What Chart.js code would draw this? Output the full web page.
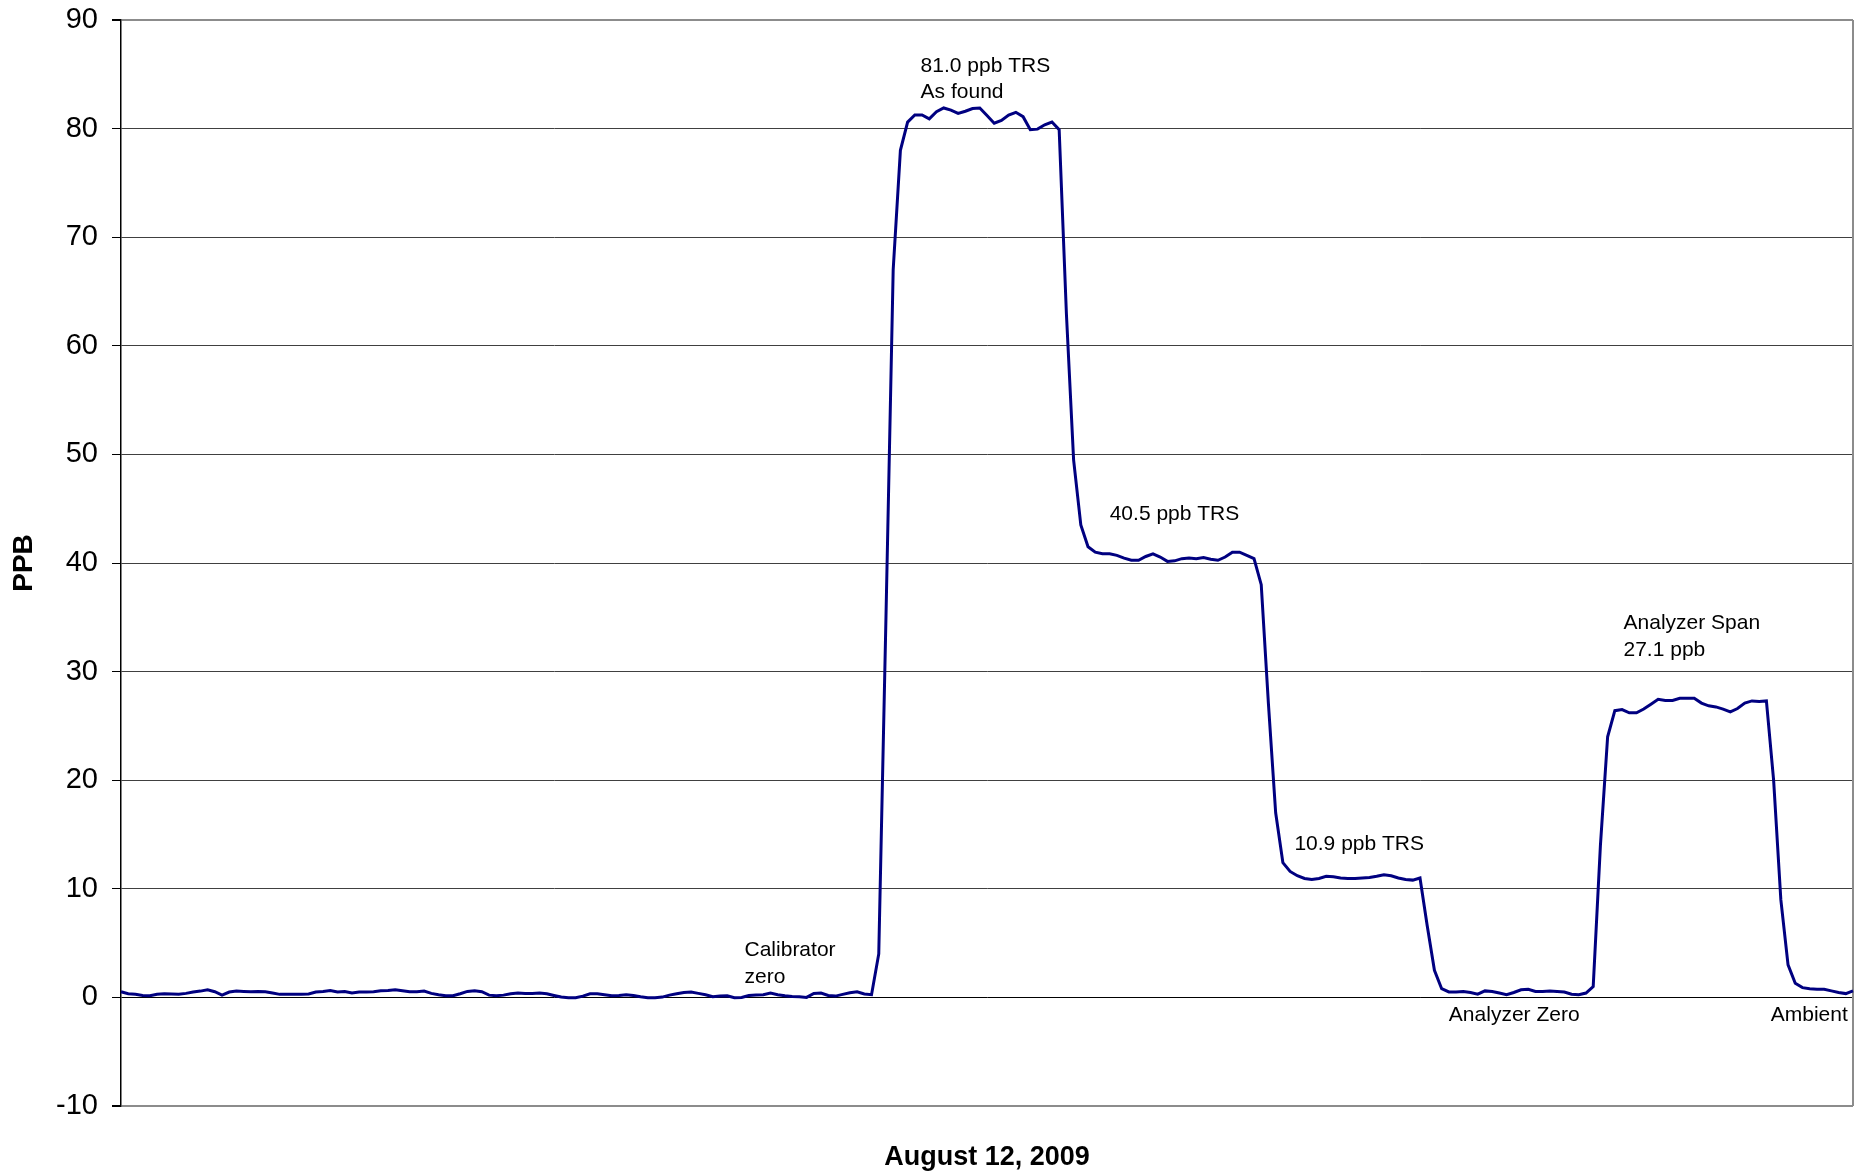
<!DOCTYPE html>
<html>
<head>
<meta charset="utf-8">
<script src="https://cdn.jsdelivr.net/npm/chart.js@4.4.1/dist/chart.umd.min.js"></script>
<style>
  html, body { margin: 0; padding: 0; background: #fff; }
  #wrap { width: 1865px; height: 1174px; position: relative; }
</style>
</head>
<body>
<div id="wrap"><canvas id="trsChart"></canvas></div>
<script>
// TRS readings (ppb), one sample per reading across the day
const ppb = [
  0.52, 0.34, 0.28, 0.18, 0.15, 0.28, 0.34, 0.31, 0.28, 0.37,
  0.49, 0.58, 0.70, 0.52, 0.21, 0.49, 0.58, 0.55, 0.52, 0.55,
  0.52, 0.40, 0.28, 0.28, 0.28, 0.28, 0.31, 0.49, 0.55, 0.64,
  0.49, 0.55, 0.40, 0.49, 0.49, 0.52, 0.61, 0.64, 0.70, 0.61,
  0.52, 0.52, 0.58, 0.37, 0.25, 0.15, 0.15, 0.34, 0.55, 0.61,
  0.52, 0.21, 0.15, 0.21, 0.34, 0.40, 0.37, 0.37, 0.40, 0.34,
  0.18, 0.03, -0.03, -0.03, 0.12, 0.34, 0.34, 0.25, 0.15, 0.18,
  0.25, 0.18, 0.06, -0.03, -0.03, 0.03, 0.21, 0.34, 0.46, 0.49,
  0.37, 0.25, 0.06, 0.12, 0.15, -0.03, 0.00, 0.18, 0.21, 0.25,
  0.40, 0.25, 0.15, 0.09, 0.06, 0.00, 0.37, 0.40, 0.18, 0.12,
  0.28, 0.43, 0.52, 0.31, 0.25, 4.0, 35, 67, 78, 80.6,
  81.25, 81.26, 80.9, 81.55, 81.9, 81.7, 81.4, 81.6, 81.85, 81.9,
  81.2, 80.5, 80.75, 81.25, 81.5, 81.1, 79.9, 79.95, 80.35, 80.6,
  79.9, 63, 49.5, 43.5, 41.5, 41.0, 40.85, 40.85, 40.7, 40.45,
  40.25, 40.25, 40.6, 40.85, 40.55, 40.15, 40.2, 40.4, 40.45, 40.4,
  40.5, 40.35, 40.25, 40.55, 41.0, 41.0, 40.7, 40.4, 38, 27,
  17, 12.4, 11.6, 11.2, 10.95, 10.85, 10.95, 11.15, 11.1, 11.0,
  10.95, 10.95, 11.0, 11.05, 11.15, 11.3, 11.2, 11.0, 10.85, 10.8,
  11.0, 6.6, 2.5, 0.8, 0.5, 0.5, 0.55, 0.45, 0.3, 0.6,
  0.55, 0.4, 0.25, 0.45, 0.7, 0.75, 0.55, 0.55, 0.6, 0.55,
  0.5, 0.3, 0.25, 0.4, 1.0, 14, 24, 26.4, 26.5, 26.2,
  26.2, 26.55, 27.0, 27.45, 27.35, 27.35, 27.55, 27.55, 27.55, 27.1,
  26.85, 26.75, 26.55, 26.3, 26.6, 27.1, 27.3, 27.25, 27.3, 20,
  9, 3.0, 1.3, 0.9, 0.8, 0.75, 0.75, 0.6, 0.45, 0.35,
  0.6
];

// no tick labels are shown on the time axis, samples are just numbered
const samples = ppb.map((v, i) => i);

const yTicks = { min: -10, max: 90, step: 10 };
const xTitle = 'August 12, 2009';
const yTitle = 'PPB';

// text notes placed at [sample, ppb]
const notes = [
  { lines: ['81.0 ppb TRS', 'As found'], at: [110.8, 85.75] },
  { lines: ['40.5 ppb TRS'], at: [137.0, 44.5] },
  { lines: ['10.9 ppb TRS'], at: [162.6, 14.1] },
  { lines: ['Analyzer Span', '27.1 ppb'], at: [208.2, 34.45] },
  { lines: ['Calibrator', 'zero'], at: [86.4, 4.3] },
  { lines: ['Analyzer Zero'], at: [184.0, -1.68] },
  { lines: ['Ambient'], at: [228.6, -1.68] }
];

const FONT = "'Liberation Sans', Arial, sans-serif";

const notesPlugin = {
  id: 'notes',
  afterDatasetsDraw(chart) {
    const c = chart.ctx;
    const xs = chart.scales.x;
    const ys = chart.scales.y;
    c.save();
    c.font = '21px ' + FONT;
    c.fillStyle = '#000';
    c.textAlign = 'left';
    c.textBaseline = 'middle';
    notes.forEach(n => {
      const x = xs.getPixelForValue(n.at[0]);
      const y = ys.getPixelForValue(n.at[1]);
      n.lines.forEach((t, k) => c.fillText(t, x, y + k * 26.5));
    });
    c.restore();
  }
};

//plot area right edge in grey like the old spreadsheet frame
const framePlugin = {
  id: 'frame',
  beforeDatasetsDraw(chart) {
    const a = chart.chartArea;
    const c = chart.ctx;
    c.save();
    c.strokeStyle = '#8c8c8c';
    c.lineWidth = 2;
    c.beginPath();
    c.moveTo(a.right, a.top);
    c.lineTo(a.right, a.bottom);
    c.stroke();
    c.restore();
  }
};

new Chart(document.getElementById('trsChart'), {
  type: 'line',
  data: {
    labels: samples,
    datasets: [{
      label: 'TRS',
      data: ppb,
      borderColor: '#000080',
      borderWidth: 3,
      pointRadius: 0,
      tension: 0,
      fill: false
    }]
  },
  options: {
    responsive: true,
    maintainAspectRatio: false,
    animation: false,
    layout: { padding: { top: 20, right: 12, left: 0, bottom: 0 } },
    plugins: {
      legend: { display: false },
      tooltip: { enabled: false }
    },
    scales: {
      x: {
        offset: false,
        grid: { display: false },
        border: { display: false },
        ticks: { display: false },
        title: {
          display: true,
          text: xTitle,
          color: '#000',
          font: { family: FONT, size: 27, weight: 'bold' },
          padding: { top: 0, bottom: 0 }
        },
        afterFit(s) { s.height = 68; }
      },
      y: {
        min: yTicks.min,
        max: yTicks.max,
        ticks: {
          stepSize: yTicks.step,
          color: '#000',
          padding: 14,
          font: { family: FONT, size: 29 }
        },
        grid: {
          color: ctx => {
            const v = ctx.tick && ctx.tick.value;
            if (v === 0) return '#000';
            if (v === yTicks.min || v === yTicks.max) return '#8c8c8c';
            return '#404040';
          },
          lineWidth: ctx => {
            const v = ctx.tick && ctx.tick.value;
            return (v === yTicks.min || v === yTicks.max) ? 2 : 1;
          },
          tickColor: '#000',
          tickLength: 9
        },
        border: { display: true, color: '#000', width: 1.5 },
        title: {
          display: true,
          text: yTitle,
          color: '#000',
          font: { family: FONT, size: 28, weight: 'bold' },
          padding: { top: 7, bottom: 0 }
        },
        afterFit(s) {
          s.width = 121;
          // keep the plot top where the layout padding puts it
          s.paddingTop = 0;
          s.paddingBottom = 0;
        }
      }
    }
  },
  plugins: [notesPlugin, framePlugin]
});
</script>
</body>
</html>
